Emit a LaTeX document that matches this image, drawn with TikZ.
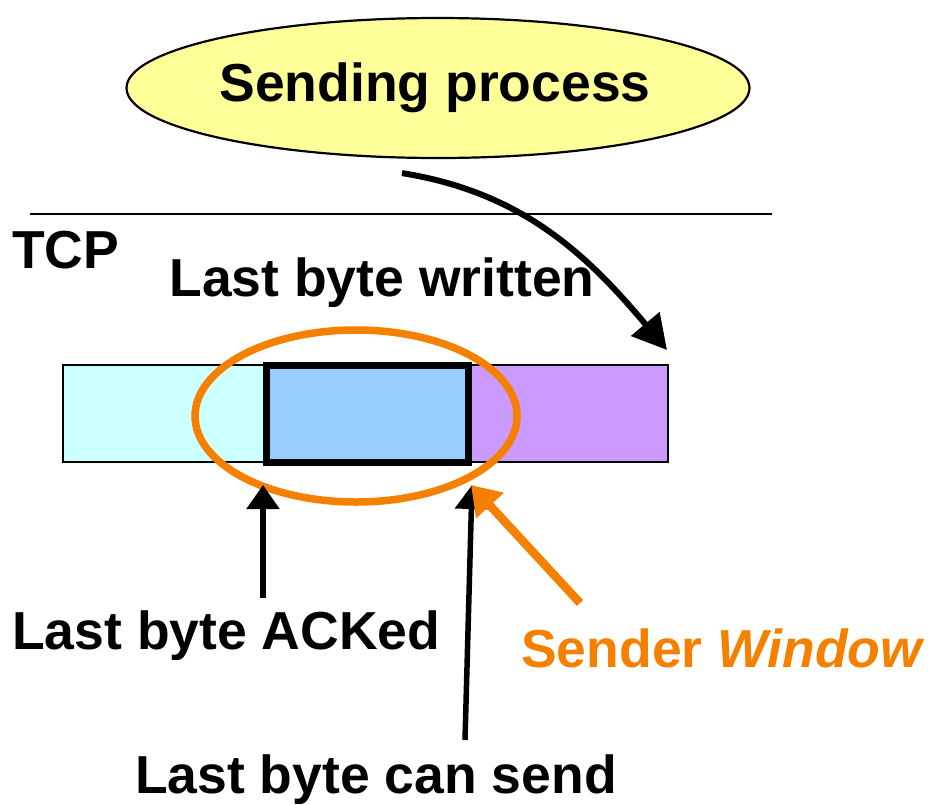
\documentclass[tikz,border=0pt]{standalone}
\usepackage{fontspec}
\setmainfont{Liberation Sans}
\usetikzlibrary{shapes.geometric,arrows.meta}
\definecolor{procfill}{RGB}{255,255,153}
\definecolor{ackedfill}{RGB}{204,255,255}
\definecolor{winfill}{RGB}{153,204,255}
\definecolor{freefill}{RGB}{204,153,255}
\definecolor{winorange}{RGB}{245,128,0}
\tikzset{
  lbl/.style={font=\fontsize{53.5}{60}\selectfont\bfseries, inner sep=0pt},
  seg/.style={draw=black, line width=2pt, minimum height=97pt, inner sep=0pt, anchor=west},
  ptr/.style={draw=black, line width=5.5pt, -{Triangle[length=24pt,width=32pt]}},
}
\begin{document}
\begin{tikzpicture}[x=1pt,y=-1pt]
  \useasboundingbox (0,0) rectangle (928,804);

  % application layer
  \node[ellipse, draw=black, line width=2.2pt, fill=procfill,
        minimum width=623pt, minimum height=140pt, inner sep=0pt] (proc) at (438,88) {};
  \node[lbl] (proctext) at (435,88) {Sending process};

  % layer boundary
  \coordinate (bl) at (30,214);
  \coordinate (br) at (772,214);
  \draw[line width=2.2pt] (bl) -- (br);
  \node[lbl, anchor=west] (tcp) at (12,250) {TCP};
  \node[lbl] (written) at (382,283) {Last byte written};

  % send buffer
  \node[seg, fill=ackedfill, minimum width=201pt] (acked) at (62,413.5) {};
  \node[seg, fill=freefill, minimum width=202pt] (free) at (465,413.5) {};
  \node[seg, fill=winfill, minimum width=202pt, line width=7pt] (inflight) at (263,413.5) {};

  % sender window outline
  \node[ellipse, draw=winorange, line width=7.5pt, minimum width=322pt,
        minimum height=172pt, inner sep=0pt] (win) at (356,416) {};

  % data written by the application
  \coordinate (wtip) at (667,350);
  \draw[draw=black, line width=6pt, -{Triangle[length=34pt,width=36pt]}]
        (proc.south) ++(-36,14) coordinate (wstart)
        .. controls (520,192) and (585,252) .. (wtip);

  % pointers into the buffer
  \node[lbl, anchor=west] (ackedlbl) at (12,636) {Last byte ACKed};
  \node[lbl] (sendlbl) at (376,780) {Last byte can send};
  \coordinate (ackbase) at (263,598);
  \coordinate (sendbase) at (465,740);
  \draw[ptr] (ackbase) -- (inflight.south west |- 0,485);
  \draw[ptr] (sendbase) -- (inflight.south east |- 0,485);

  % window label
  \node[lbl, text=winorange, anchor=west] (winlbl) at (521,648) {Sender \itshape Window};
  \coordinate (wbase) at (580,603);
  \draw[draw=winorange, line width=8.5pt, -{Triangle[length=28pt,width=36pt]}]
        (wbase) -- (471,485);
\end{tikzpicture}
\end{document}
